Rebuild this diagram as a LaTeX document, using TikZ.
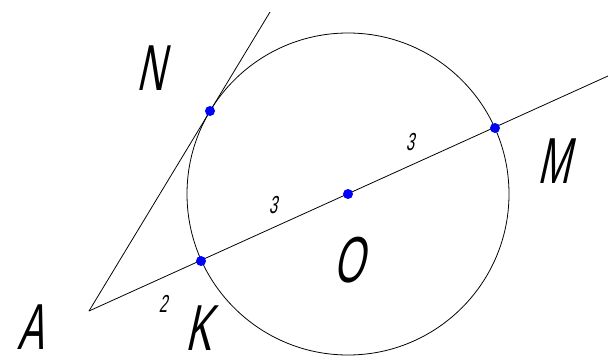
\documentclass[tikz,border=0pt]{standalone}
\usepackage{fontspec}
\newfontfamily\gost[FakeStretch=0.6,FakeSlant=0.22]{Liberation Sans}
\tikzset{
  lbl/.style={font=\gost\fontsize{74}{74}\selectfont,anchor=base,inner sep=0pt},
  num/.style={font=\gost\fontsize{28}{28}\selectfont,anchor=base,inner sep=0pt},
  pt/.style={fill=blue}
}
\begin{document}
\begin{tikzpicture}[x=0.04cm,y=-0.04cm,line width=0.9pt]
\useasboundingbox (0,0) rectangle (608,361);
\coordinate (A) at (89,311);
\coordinate (K) at (201,261);
\coordinate (O) at (348,194);
\coordinate (M) at (495,128);
\coordinate (N) at (210,111);
\coordinate (E) at (608,76);
\coordinate (T) at (270,12);
\draw (O) circle (161);
\draw (A) -- (E);
\draw (A) -- (T);
\fill[pt] (K) circle (5);
\fill[pt] (O) circle (5);
\fill[pt] (M) circle (5);
\fill[pt] (N) circle (5);
\node[lbl] (lA) at (31,349) {A};
\node[lbl] (lK) at (199,350) {K};
\node[lbl] (lN) at (151,90) {N};
\node[lbl] (lM) at (554,183) {M};
\node[lbl] (lO) at (349,282) {O};
\node[num] (n2) at (163,312) {2};
\node[num] (n3a) at (273,213) {3};
\node[num] (n3b) at (410,150) {3};
\end{tikzpicture}
\end{document}
